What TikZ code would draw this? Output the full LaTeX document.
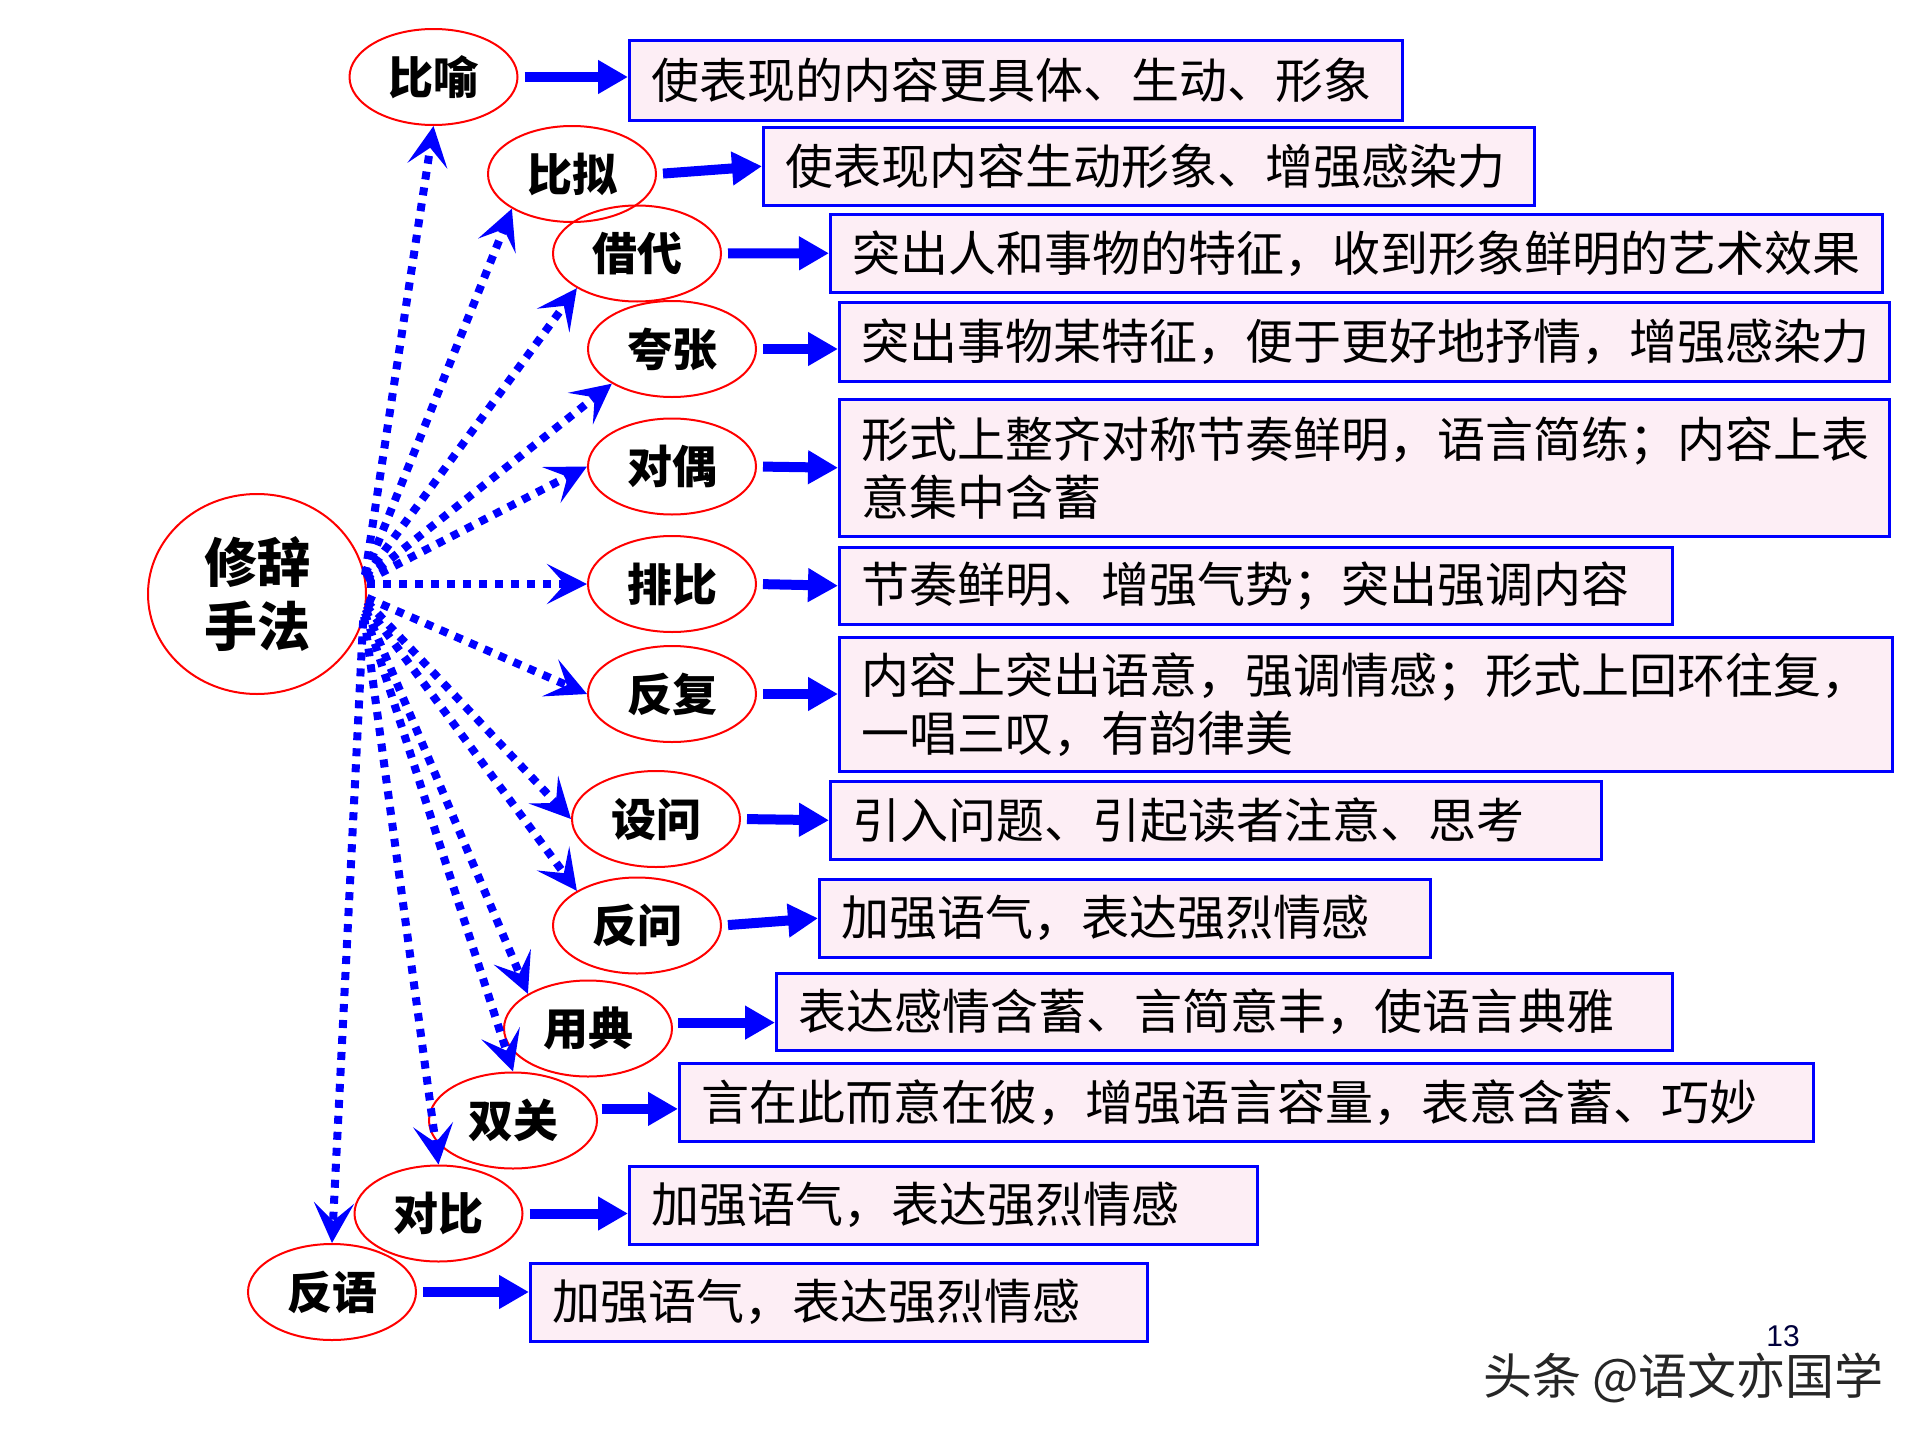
\documentclass[tikz,border=0pt]{standalone}
\usepackage{fontspec}
\setmainfont{Noto Sans CJK SC}
\newfontfamily\numfont{Liberation Sans}
\usetikzlibrary{shapes.geometric,arrows.meta,calc}
\definecolor{boxfill}{RGB}{253,238,245}
\begin{document}
\begin{tikzpicture}[x=1pt,y=-1pt,
  tech/.style={ellipse,draw=red,line width=2pt,minimum width=168pt,minimum height=96pt,inner sep=0pt,font=\fontsize{45}{50}\selectfont\bfseries},
  box/.style={draw=blue,line width=2.5pt,fill=boxfill,anchor=north west,inner xsep=22pt,inner ysep=0pt,align=left,font=\fontsize{48}{58}\selectfont},
  solidarr/.style={draw=blue,line width=10pt,-{Triangle[length=30pt,width=32pt]},shorten <=6pt},
  dotarr/.style={draw=blue,line width=8pt,dash pattern=on 8pt off 8pt,-{Stealth[length=40pt,width=40pt,inset=18pt]}}
]
\fill[white] (0,0) rectangle (1920,1440);
\useasboundingbox (0,0) rectangle (1920,1440);

% boxes
\node[box,text width=729pt,minimum height=80pt] (b1) at (628,39) {使表现的内容更具体、生动、形象};
\node[box,text width=727pt,minimum height=78pt] (b2) at (762,126) {使表现内容生动形象、增强感染力};
\node[box,text width=1008pt,minimum height=78pt] (b3) at (829,213) {突出人和事物的特征，收到形象鲜明的艺术效果};
\node[box,text width=1006pt,minimum height=79pt] (b4) at (838,301) {突出事物某特征，便于更好地抒情，增强感染力};
\node[box,text width=1006pt,minimum height=137pt] (b5) at (838,398) {形式上整齐对称节奏鲜明，语言简练；内容上表\\意集中含蓄};
\node[box,text width=789pt,minimum height=77pt] (b6) at (838,546) {节奏鲜明、增强气势；突出强调内容};
\node[box,text width=1009pt,minimum height=134pt] (b7) at (838,636) {内容上突出语意，强调情感；形式上回环往复，\\一唱三叹，有韵律美};
\node[box,text width=727pt,minimum height=78pt] (b8) at (829,780) {引入问题、引起读者注意、思考};
\node[box,text width=567pt,minimum height=78pt] (b9) at (818,878) {加强语气，表达强烈情感};
\node[box,text width=852pt,minimum height=77pt] (b10) at (775,972) {表达感情含蓄、言简意丰，使语言典雅};
\node[box,text width=1090pt,minimum height=78pt] (b11) at (678,1062) {言在此而意在彼，增强语言容量，表意含蓄、巧妙};
\node[box,text width=584pt,minimum height=78pt] (b12) at (628,1165) {加强语气，表达强烈情感};
\node[box,text width=573pt,minimum height=78pt] (b13) at (529,1262) {加强语气，表达强烈情感};

% ellipses
\node[tech,minimum width=218pt,minimum height=200pt,font=\fontsize{53}{64}\selectfont\bfseries,align=center] (xc) at (257,594) {修辞\\手法};
\node[tech] (e1) at (433.5,77) {比喻};
\node[tech] (e2) at (572,174) {比拟};
\node[tech] (e3) at (637,253.5) {借代};
\node[tech] (e4) at (672,349) {夸张};
\node[tech] (e5) at (672,466.5) {对偶};
\node[tech] (e6) at (672,584) {排比};
\node[tech] (e7) at (672,694) {反复};
\node[tech] (e8) at (656,819) {设问};
\node[tech] (e9) at (637,925.5) {反问};
\node[tech] (e10) at (588,1028.5) {用典};
\node[tech] (e11) at (513,1120.5) {双关};
\node[tech] (e12) at (438.5,1213.5) {对比};
\node[tech] (e13) at (332,1292) {反语};

% dotted arrows
\draw[dotarr] (xc.10) -- (e1.south);
\draw[dotarr] (xc.10) -- (e2.south west);
\draw[dotarr] (xc.9) -- (e3.south west);
\draw[dotarr] (xc.8) -- (e4.south west);
\draw[dotarr] (xc.7) -- (e5.west);
\draw[dotarr] (e6.west -| xc.east) -- (e6.west);
\draw[dotarr] (xc.-2) -- (e7.west);
\draw[dotarr] (xc.-4) -- (e8.west);
\draw[dotarr] (xc.-6) -- (e9.north west);
\draw[dotarr] (xc.-8) -- (e10.north west);
\draw[dotarr] (xc.-10) -- (e11.north);
\draw[dotarr] (xc.-12) -- (e12.north);
\draw[dotarr] (xc.-14) -- (e13.north);

% solid arrows
\draw[solidarr] (e1.east) -- (e1.east -| b1.west);
\draw[solidarr] (e2.east) -- (b2.west);
\draw[solidarr] (e3.east) -- (b3.west);
\draw[solidarr] (e4.east) -- (e4.east -| b4.west);
\draw[solidarr] (e5.east) -- (b5.west);
\draw[solidarr] (e6.east) -- (b6.west);
\draw[solidarr] (e7.east) -- (e7.east -| b7.west);
\draw[solidarr] (e8.east) -- (b8.west);
\draw[solidarr] (e9.east) -- (b9.west);
\draw[solidarr] (e10.4) -- (e10.4 -| b10.west);
\draw[solidarr] (e11.8) -- (e11.8 -| b11.west);
\draw[solidarr] (e12.east) -- (e12.east -| b12.west);
\draw[solidarr] (e13.east) -- (e13.east -| b13.west);

% footer
\node[anchor=west,font=\fontsize{49}{56}\selectfont,text=black!85] (wm) at (1480,1378) {头条 @语文亦国学};
\node[font=\numfont\fontsize{30}{36}\selectfont,text={rgb,255:red,0;green,0;blue,60}] (pg) at (1783,1336) {13};
\end{tikzpicture}
\end{document}
